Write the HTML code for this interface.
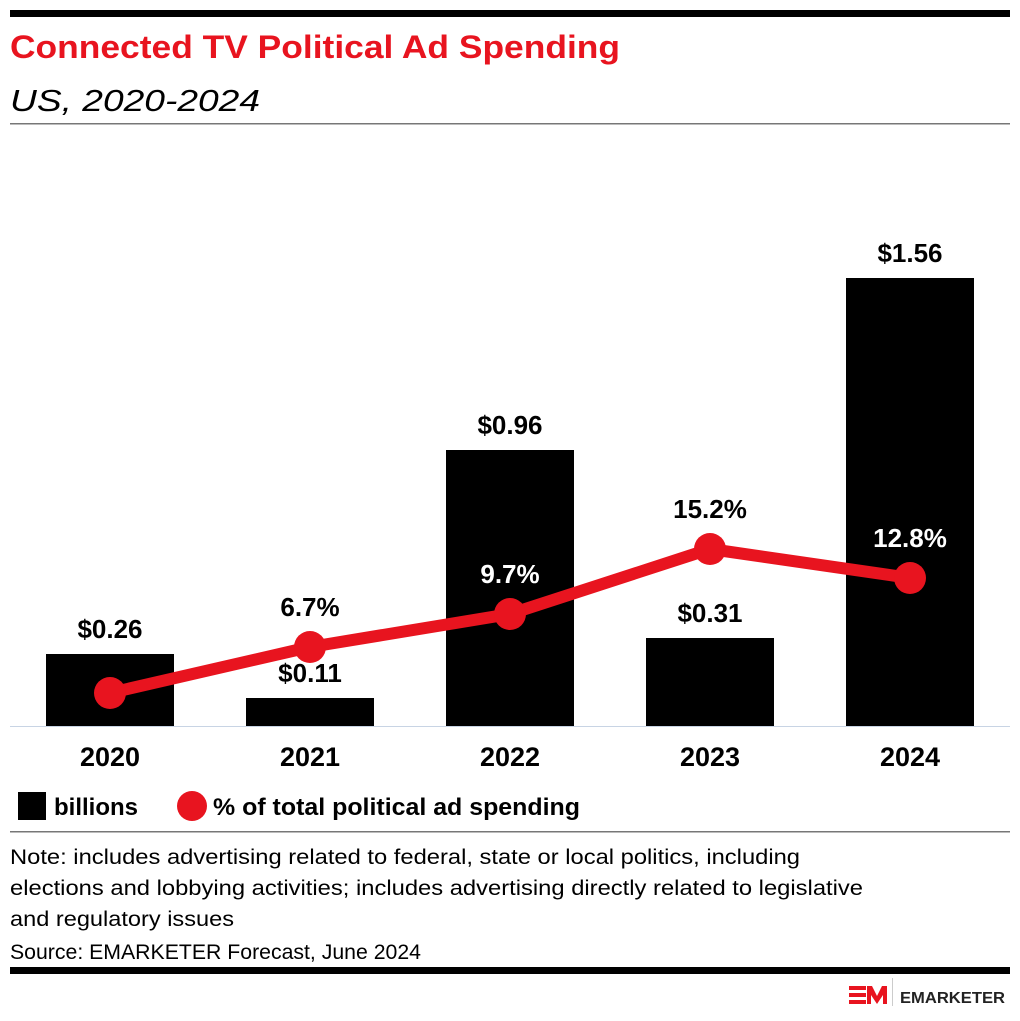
<!DOCTYPE html>
<html><head><meta charset="utf-8"><style>
body{margin:0;background:#fff;font-family:"Liberation Sans",sans-serif;}
</style></head><body>
<svg width="1020" height="1016" xmlns="http://www.w3.org/2000/svg" font-family="Liberation Sans, sans-serif">
<rect x="10" y="10" width="1000" height="7" fill="#000"/>
<text x="10" y="58" font-size="32" font-weight="bold" fill="#e8141f" textLength="610" lengthAdjust="spacingAndGlyphs">Connected TV Political Ad Spending</text>
<text x="10" y="111" font-size="31" font-style="italic" fill="#000" textLength="250" lengthAdjust="spacingAndGlyphs">US, 2020-2024</text>
<rect x="10" y="123" width="1000" height="1.5" fill="#777"/>
<rect x="46" y="654" width="128" height="72" fill="#000"/>
<rect x="246" y="698" width="128" height="28" fill="#000"/>
<rect x="446" y="450" width="128" height="276" fill="#000"/>
<rect x="646" y="638" width="128" height="88" fill="#000"/>
<rect x="846" y="278" width="128" height="448" fill="#000"/>
<rect x="10" y="726" width="1000" height="1" fill="#c8d4e4"/>
<g font-size="26" font-weight="bold" text-anchor="middle" fill="#000">
<text x="110" y="638">$0.26</text>
<text x="310" y="682">$0.11</text>
<text x="510" y="434">$0.96</text>
<text x="710" y="622">$0.31</text>
<text x="910" y="262">$1.56</text>
<text x="310" y="616">6.7%</text>
<text x="510" y="583" fill="#fff">9.7%</text>
<text x="710" y="518">15.2%</text>
<text x="910" y="547" fill="#fff">12.8%</text>
<text x="110" y="766" font-size="27">2020</text>
<text x="310" y="766" font-size="27">2021</text>
<text x="510" y="766" font-size="27">2022</text>
<text x="710" y="766" font-size="27">2023</text>
<text x="910" y="766" font-size="27">2024</text>
</g>
<polyline points="110,693 310,647 510,614 710,549 910,578" fill="none" stroke="#e8141f" stroke-width="12" stroke-linejoin="round"/>
<g fill="#e8141f">
<circle cx="110" cy="693" r="16"/><circle cx="310" cy="647" r="16"/><circle cx="510" cy="614" r="16"/><circle cx="710" cy="549" r="16"/><circle cx="910" cy="578" r="16"/>
</g>
<rect x="18" y="792" width="28" height="28" fill="#000"/>
<text x="54" y="815" font-size="24" font-weight="bold" textLength="84" lengthAdjust="spacingAndGlyphs">billions</text>
<circle cx="192" cy="806" r="15" fill="#e8141f"/>
<text x="213" y="815" font-size="24" font-weight="bold" textLength="367" lengthAdjust="spacingAndGlyphs">% of total political ad spending</text>
<rect x="10" y="831" width="1000" height="1.5" fill="#777"/>
<g font-size="21" fill="#000">
<text x="10" y="864" textLength="790" lengthAdjust="spacingAndGlyphs">Note: includes advertising related to federal, state or local politics, including</text>
<text x="10" y="895" textLength="853" lengthAdjust="spacingAndGlyphs">elections and lobbying activities; includes advertising directly related to legislative</text>
<text x="10" y="926" textLength="224" lengthAdjust="spacingAndGlyphs">and regulatory issues</text>
<text x="10" y="959" textLength="411" lengthAdjust="spacingAndGlyphs">Source: EMARKETER Forecast, June 2024</text>
</g>
<rect x="10" y="967" width="1000" height="7" fill="#000"/>
<g fill="#e8141f">
<rect x="849" y="986" width="17" height="4"/><rect x="849" y="993" width="17" height="4"/><rect x="849" y="1000" width="17" height="4"/>
<polygon points="867,1004 867,986 872,986 877,996 882,986 887,986 887,1004 883,1004 883,995 877,1004 871,995 871,1004"/>
</g>
<rect x="892" y="978" width="1" height="28" fill="#ccc"/>
<text x="900" y="1003" font-size="16" font-weight="bold" fill="#222" textLength="105" lengthAdjust="spacingAndGlyphs">EMARKETER</text>
</svg>
</body></html>
